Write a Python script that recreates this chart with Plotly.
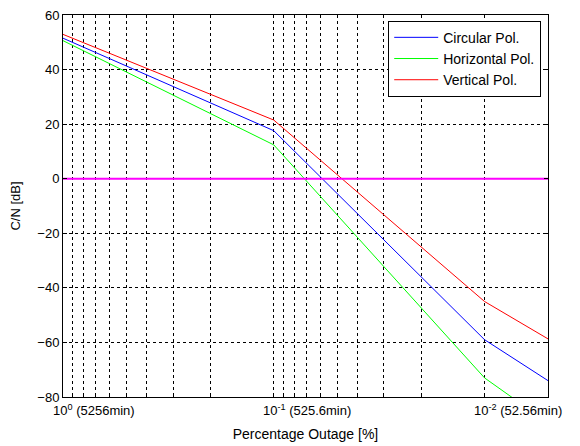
import math
import plotly.graph_objects as go

# ---- data ----
outage_pct = [1.0, 0.1, 0.01, 0.005]
circular_db = [51.5, 17.6, -59.0, -74.0]
horizontal_db = [50.6, 12.4, -73.0, -89.5]
vertical_db = [52.9, 21.5, -45.0, -58.7]
threshold_db = [0, 0, 0, 0]

tick_values = [1, 0.1, 0.01]
tick_exponents = ["0", "-1", "-2"]
tick_minutes = ["(5256min)", "(525.6min)", "(52.56min)"]
y_ticks = [-80, -60, -40, -20, 0, 20, 40, 60]

FONT = "Arial, Liberation Sans, sans-serif"

# grid positions of a log axis: 1..9 x each decade
grid_vals = []
for dec in [1.0, 0.1, 0.01]:
    for m in range(1, 10):
        v = m * dec
        if 0.005 <= v <= 1.0:
            grid_vals.append(v)

fig = go.Figure()
series = [
    ("Circular Pol.", circular_db, "#0000ff"),
    ("Horizontal Pol.", horizontal_db, "#00ff00"),
    ("Vertical Pol.", vertical_db, "#ff0000"),
]
for name, vals, col in series:
    fig.add_trace(go.Scatter(x=outage_pct, y=vals, mode="lines", name=name,
                             line=dict(color=col, width=1)))
fig.add_trace(go.Scatter(x=outage_pct, y=threshold_db, mode="lines",
                         line=dict(color="#ff00ff", width=2), showlegend=False))

# the page body adds an 8px offset, so the figure is 8px smaller and margins shifted
fig.update_layout(
    width=572, height=438,
    margin=dict(l=55, r=32, t=7, b=49),
    paper_bgcolor="white", plot_bgcolor="white",
    font=dict(family=FONT, size=13, color="black"),
    showlegend=True,
    legend=dict(x=0.986, y=0.985, xanchor="right", yanchor="top",
                bgcolor="white", bordercolor="black", borderwidth=1,
                font=dict(family=FONT, size=14, color="black"),
                itemwidth=44, tracegroupgap=0),
)
fig.update_xaxes(
    type="log", range=[0, -2.30103], autorange=False, automargin=False,
    tickmode="array", tickvals=grid_vals,
    showticklabels=False,
    showgrid=True, gridcolor="black", griddash="3px,3px", gridwidth=1,
    ticks="inside", ticklen=3, tickcolor="black",
    showline=True, linecolor="black", linewidth=1, mirror="ticks",
    zeroline=False,
    title=dict(text="Percentage Outage [%]", standoff=32,
               font=dict(family=FONT, size=14)),
)
fig.update_yaxes(
    range=[-80, 60], autorange=False, automargin=False,
    tickmode="array", tickvals=y_ticks, ticklabeloverflow="allow",
    tickfont=dict(family=FONT, size=13),
    showgrid=True, gridcolor="black", griddash="3px,3px", gridwidth=1,
    ticks="inside", ticklen=4, tickcolor="black",
    showline=True, linecolor="black", linewidth=1, mirror="ticks",
    zeroline=False,
    title=dict(text="C/N [dB]", standoff=16, font=dict(family=FONT, size=13)),
)

for v, e, mins in zip(tick_values, tick_exponents, tick_minutes):
    fig.add_annotation(x=math.log10(v), y=0, xref="x", yref="paper",
                       text=f"10<sup>{e}</sup> {mins}", showarrow=False,
                       xanchor="left", yanchor="top",
                       xshift=-12 if e == "0" else -13, yshift=-3,
                       font=dict(family=FONT, size=13, color="black"))

fig.write_html("out.html")
